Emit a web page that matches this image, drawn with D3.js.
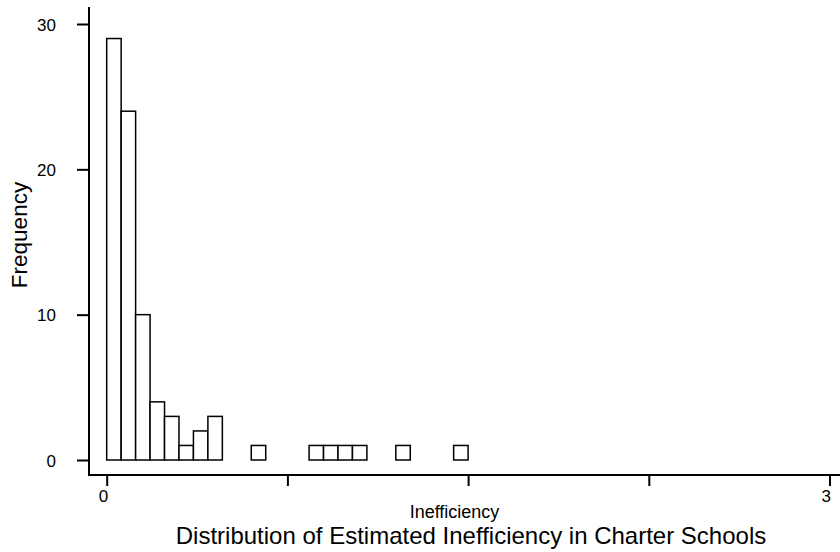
<!DOCTYPE html>
<html>
<head>
<meta charset="utf-8">
<script src="https://cdn.jsdelivr.net/npm/d3@7"></script>
<style>
  html, body { margin: 0; padding: 0; background: #fff; }
  svg { display: block; }
  text { font-family: "Liberation Sans", Arial, Helvetica, sans-serif; fill: #000; }
</style>
</head>
<body>
<svg id="chart" width="840" height="552"></svg>
<script>
// Histogram bins: left edge of each non-empty bin and its count
const binWidth = 0.06;
const binStarts = [0, 0.06, 0.12, 0.18, 0.24, 0.30, 0.36, 0.42, 0.60, 0.84, 0.90, 0.96, 1.02, 1.20, 1.44];
const counts    = [29, 24, 10, 4, 3, 1, 2, 3, 1, 1, 1, 1, 1, 1, 1];

const xTicks = [0, 0.75, 1.5, 2.25, 3];
const xTickLabels = ["0", "", "", "", "3"];
const yTicks = [0, 10, 20, 30];

const title = "Distribution of Estimated Inefficiency in Charter Schools";
const xTitle = "Inefficiency";
const yTitle = "Frequency";

const svg = d3.select("#chart");

const x = d3.scaleLinear().domain([0, 3]).range([106.7, 829.5]);
const y = d3.scaleLinear().domain([0, 30]).range([460, 24]);

const axisX0 = 89, axisY0 = 475;

// Bars
svg.append("g")
  .selectAll("rect")
  .data(binStarts.map((s, i) => ({ s, c: counts[i] })))
  .join("rect")
  .attr("x", d => x(d.s))
  .attr("y", d => y(d.c))
  .attr("width", d => x(d.s + binWidth) - x(d.s))
  .attr("height", d => y(0) - y(d.c))
  .attr("fill", "#fff")
  .attr("stroke", "#000")
  .attr("stroke-width", 1.5);

// Y axis
const yAxis = svg.append("g")
  .attr("transform", `translate(${axisX0},0)`)
  .call(d3.axisLeft(y).tickValues(yTicks).tickSize(12).tickPadding(21).tickSizeOuter(0));
yAxis.select(".domain").remove();
yAxis.selectAll(".tick line").attr("stroke", "#000").attr("stroke-width", 2);
yAxis.selectAll(".tick text").style("font-size", "17px").attr("dy", "0.36em");
svg.append("line")
  .attr("x1", axisX0).attr("x2", axisX0)
  .attr("y1", 7).attr("y2", axisY0 + 1)
  .attr("stroke", "#000").attr("stroke-width", 2);

// X axis
const xAxis = svg.append("g")
  .attr("transform", `translate(0,${axisY0})`)
  .call(d3.axisBottom(x).tickValues(xTicks).tickSize(11).tickSizeOuter(0)
    .tickFormat((d, i) => xTickLabels[i]));
xAxis.select(".domain").remove();
xAxis.selectAll(".tick line").attr("stroke", "#000").attr("stroke-width", 2);
xAxis.selectAll(".tick text")
  .style("font-size", "17px")
  .attr("text-anchor", "end")
  .attr("dx", "1px")
  .attr("y", 27)
  .attr("dy", 0);
svg.append("line")
  .attr("x1", axisX0 - 1).attr("x2", 840)
  .attr("y1", axisY0).attr("y2", axisY0)
  .attr("stroke", "#000").attr("stroke-width", 2);

// Axis titles
svg.append("text")
  .attr("x", 454.5).attr("y", 518)
  .attr("text-anchor", "middle")
  .style("font-size", "18px")
  .text(xTitle);

svg.append("text")
  .attr("transform", "translate(26.5,235) rotate(-90)")
  .attr("text-anchor", "middle")
  .style("font-size", "22.5px")
  .text(yTitle);

// Chart title
svg.append("text")
  .attr("x", 471).attr("y", 543.5)
  .attr("text-anchor", "middle")
  .style("font-size", "24px")
  .text(title);
</script>
</body>
</html>
